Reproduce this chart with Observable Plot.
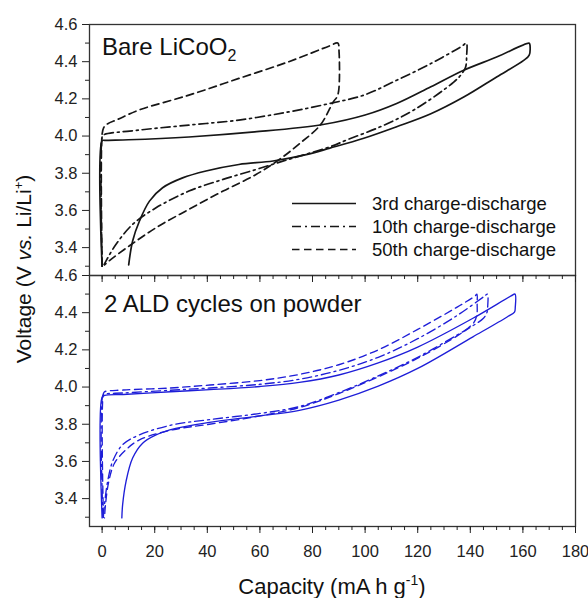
<!DOCTYPE html>
<html>
<head>
<meta charset="utf-8">
<script src="https://cdn.jsdelivr.net/npm/d3@7"></script>
<script src="https://cdn.jsdelivr.net/npm/@observablehq/plot@0.6"></script>
<style>
  body { margin: 0; background: #fff; }
  #wrap { position: relative; width: 588px; height: 598px; font-family: "Liberation Sans", Arial, sans-serif; }
  #wrap svg { position: absolute; left: 0; top: 0; }
  #wrap svg.overlay { pointer-events: none; }
</style>
</head>
<body>
<div id="wrap"></div>
<script>
// ---------- data ----------
const panels = ["bare", "ald"];
const panelLabels = ["Bare LiCoO", "2 ALD cycles on powder"];
const panelLabelSub = ["2", ""];
const cycleNames = ["3rd charge-discharge", "10th charge-discharge", "50th charge-discharge"];

const xTicks = [0, 20, 40, 60, 80, 100, 120, 140, 160, 180];
const xMinorTicks = [0, 5, 10, 15, 20, 25, 30, 35, 40, 45, 50, 55, 60, 65, 70, 75, 80, 85, 90, 95, 100, 105, 110, 115, 120, 125, 130, 135, 140, 145, 150, 155, 160, 165, 170, 175, 180];
const yTicks = [3.4, 3.6, 3.8, 4.0, 4.2, 4.4, 4.6];
const yMinorTicks = [3.3, 3.5, 3.7, 3.9, 4.1, 4.3, 4.5];
const xLabel = "Capacity (mA h g";
const xLabelSup = "-1";

// Bare LiCoO2 (top panel)
const bare3Cap = [0, 0, 1, 10, 33, 58, 84, 100, 112, 125, 137.5, 150, 162.3, 162.6, 162.4, 160.3, 150, 137.5, 125, 112, 99.5, 86.6, 77.6, 65, 52, 39.5, 30.6, 23, 18, 14.2, 11.6, 10.1];
const bare3V   = [3.30, 3.975, 3.977, 3.98, 3.995, 4.022, 4.062, 4.113, 4.175, 4.265, 4.354, 4.425, 4.5, 4.495, 4.435, 4.407, 4.318, 4.21, 4.12, 4.05, 3.988, 3.935, 3.9, 3.866, 3.847, 3.812, 3.775, 3.722, 3.65, 3.543, 3.436, 3.307];

const bare10Cap = [0, 0, 0.5, 14, 33, 52, 71, 86.5, 99.5, 112, 125, 137, 138.5, 138.6, 138.2, 136.5, 133.7, 118.5, 105.8, 93.2, 86.8, 77, 68.7, 58.5, 46, 33, 20.5, 11.6, 5.3, 1.5, 0.8];
const bare10V   = [3.30, 3.995, 4.006, 4.032, 4.059, 4.086, 4.13, 4.175, 4.22, 4.30, 4.39, 4.485, 4.5, 4.43, 4.37, 4.33, 4.29, 4.14, 4.05, 3.98, 3.943, 3.9, 3.865, 3.82, 3.767, 3.704, 3.614, 3.525, 3.418, 3.329, 3.31];

const bare50Cap = [0, 0, 0.6, 2, 6, 14, 33, 52, 71, 86.5, 89.6, 90.1, 90, 89.3, 88, 83, 75.4, 67.4, 58.5, 46, 33, 20.5, 10.4, 2.8, 0.9];
const bare50V   = [3.30, 4.01, 4.045, 4.065, 4.09, 4.14, 4.22, 4.31, 4.40, 4.485, 4.5, 4.45, 4.25, 4.21, 4.186, 4.06, 3.963, 3.874, 3.793, 3.704, 3.606, 3.507, 3.41, 3.33, 3.307];

// 2 ALD cycles on powder (bottom panel)
const ald3Cap = [0, 0, 1, 8, 26, 41, 60, 75, 90, 105, 120, 141, 155.5, 157, 157.1, 156.8, 154, 141, 120, 105, 90, 75, 60, 40.8, 28, 20.5, 15.4, 11.6, 9.1, 7.8, 7.5];
const ald3V   = [3.296, 3.945, 3.955, 3.96, 3.975, 3.986, 4.003, 4.025, 4.065, 4.13, 4.215, 4.37, 4.49, 4.5, 4.43, 4.403, 4.377, 4.27, 4.1, 4.005, 3.93, 3.875, 3.845, 3.81, 3.778, 3.743, 3.698, 3.618, 3.493, 3.368, 3.296];

const ald10Cap = [0.3, 0.3, 1, 8, 26, 41, 60, 75, 90, 105, 120, 135, 145.5, 146.5, 146.6, 146.3, 145, 141, 135, 120, 105, 90, 75, 60, 40.8, 26.8, 14.2, 7.8, 4, 2.1, 0.9, 0.4];
const ald10V   = [3.30, 3.955, 3.962, 3.968, 3.983, 3.995, 4.015, 4.042, 4.09, 4.16, 4.26, 4.385, 4.49, 4.5, 4.43, 4.40, 4.37, 4.33, 4.28, 4.16, 4.06, 3.97, 3.895, 3.858, 3.825, 3.797, 3.743, 3.69, 3.6, 3.493, 3.368, 3.296];

const ald50Cap = [0.5, 0.5, 1, 8, 26, 41, 60, 75, 90, 105, 120, 135, 141.8, 142.5, 142.6, 142.5, 141.5, 139, 135, 120, 105, 90, 75, 60, 40.8, 26.8, 14.2, 9.1, 4.7, 2.5, 1.3, 0.9];
const ald50V   = [3.30, 3.965, 3.975, 3.984, 3.995, 4.011, 4.035, 4.068, 4.12, 4.2, 4.31, 4.43, 4.49, 4.5, 4.45, 4.39, 4.35, 4.315, 4.275, 4.155, 4.055, 3.965, 3.89, 3.845, 3.80, 3.77, 3.716, 3.663, 3.59, 3.49, 3.37, 3.296];

// ---------- styling ----------
const panelColor = {bare: "#161616", ald: "#1e1ed8"};
const panelWidth = {bare: 1.7, ald: 1.35};
const cycleDash = [null, "9,4,2,4", "7.5,4.5"];

const series = [
  {panel: "bare", cycle: 0, cap: bare3Cap, v: bare3V},
  {panel: "bare", cycle: 1, cap: bare10Cap, v: bare10V},
  {panel: "bare", cycle: 2, cap: bare50Cap, v: bare50V},
  {panel: "ald", cycle: 0, cap: ald3Cap, v: ald3V},
  {panel: "ald", cycle: 1, cap: ald10Cap, v: ald10V},
  {panel: "ald", cycle: 2, cap: ald50Cap, v: ald50V}
];

const lineMarks = series.map(s => {
  const rows = s.cap.map((c, i) => ({panel: s.panel, cap: c, v: s.v[i]}));
  return Plot.line(rows, {
    x: "cap", y: "v", fy: "panel",
    stroke: panelColor[s.panel],
    strokeWidth: panelWidth[s.panel],
    strokeDasharray: cycleDash[s.cycle],
    curve: "catmull-rom"
  });
});

const plot = Plot.plot({
  width: 588,
  height: 568,
  marginLeft: 89,
  marginRight: 13,
  marginTop: 23,
  marginBottom: 42,
  style: {fontFamily: "'Liberation Sans', Arial, sans-serif", fontSize: "16.5px", color: "#222", background: "transparent"},
  x: {domain: [-4.8, 180]},
  y: {domain: [3.25, 4.6]},
  fy: {domain: panels, axis: null, padding: 0},
  marks: [
    ...lineMarks,
    Plot.frame({stroke: "#333", strokeWidth: 1.3}),
    Plot.axisY(yMinorTicks, {tickSize: 4, fill: "none", label: null}),
    Plot.axisY(yTicks, {tickSize: 7, tickPadding: 5, tickFormat: ".1f", label: null}),
    Plot.axisX(xMinorTicks, {tickSize: 4, fill: "none", label: null, facetAnchor: null}),
    Plot.axisX(xTicks, {tickSize: 7, fill: "none", label: null, facetAnchor: null}),
    Plot.axisX(xTicks, {tickSize: 0, tickPadding: 19, label: null})
  ]
});
document.getElementById("wrap").appendChild(plot);

// ---------- annotations (panel labels, legend, axis titles) ----------
const ov = d3.select("#wrap").append("svg")
  .attr("class", "overlay")
  .attr("width", 588).attr("height", 598)
  .style("font-family", "'Liberation Sans', Arial, sans-serif")
  .style("fill", "#111");

const labelPos = [[102, 55], [104, 312]];
panelLabels.forEach((t, i) => {
  const tx = ov.append("text").attr("x", labelPos[i][0]).attr("y", labelPos[i][1]).attr("font-size", 24).text(t);
  if (panelLabelSub[i]) tx.append("tspan").attr("dy", 6).attr("font-size", 16).text(panelLabelSub[i]);
});

const legY = [203.5, 226.5, 249.5];
cycleNames.forEach((name, i) => {
  ov.append("line")
    .attr("x1", 292).attr("x2", 356).attr("y1", legY[i]).attr("y2", legY[i])
    .attr("stroke", panelColor.bare).attr("stroke-width", 1.7)
    .attr("stroke-dasharray", cycleDash[i]);
  ov.append("text").attr("x", 372).attr("y", legY[i] + 6.5).attr("font-size", 18.5).text(name);
});

// y axis title
const yt = ov.append("text")
  .attr("transform", "translate(31,269) rotate(-90)")
  .attr("text-anchor", "middle").attr("font-size", 21);
yt.append("tspan").text("Voltage (V ");
yt.append("tspan").attr("font-style", "italic").text("vs.");
yt.append("tspan").text(" Li/Li");
yt.append("tspan").attr("dy", -8).attr("font-size", 13).text("+");
yt.append("tspan").attr("dy", 8).text(")");

// x axis title
const xt = ov.append("text")
  .attr("x", 332).attr("y", 594)
  .attr("text-anchor", "middle").attr("font-size", 22);
xt.append("tspan").text(xLabel);
xt.append("tspan").attr("dy", -9).attr("font-size", 14).text(xLabelSup);
xt.append("tspan").attr("dy", 9).text(")");
</script>
</body>
</html>
